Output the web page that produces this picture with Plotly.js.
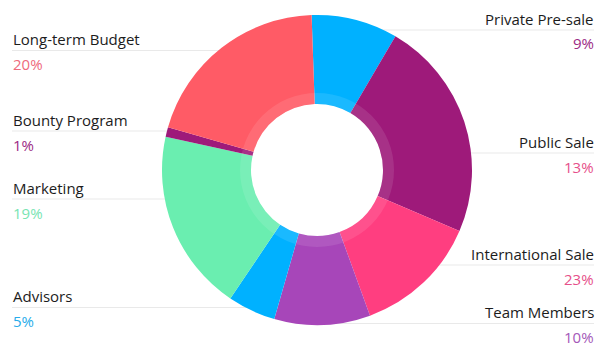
<!DOCTYPE html>
<html>
<head>
<meta charset="utf-8">
<script src="https://cdn.plot.ly/plotly-3.0.1.min.js"></script>
<style>html,body{margin:0;padding:0;background:#fff;}#chart{width:606px;height:356px;}</style>
</head>
<body>
<div id="chart"></div>
<script>
// Slices, clockwise from 12 o'clock
const sliceLabels = ['Private Pre-sale', 'International Sale', 'Public Sale', 'Team Members', 'Advisors', 'Marketing', 'Bounty Program', 'Long-term Budget'];
const sliceValues = [9, 23, 13, 10, 5, 19, 1, 20];
const sliceColors = ['#00b1ff', '#9e1a7a', '#ff3e80', '#a746b9', '#00b1ff', '#6aeeb0', '#9e1a7a', '#ff5b66'];

// Callout labels
const leftNames = ['Long-term Budget', 'Bounty Program', 'Marketing', 'Advisors'];
const leftPcts = ['20%', '1%', '19%', '5%'];
const leftPctColors = ['#ee6a7c', '#9c2a85', '#78e4b2', '#27acea'];
const rightNames = ['Private Pre-sale', 'Public Sale', 'International Sale', 'Team Members'];
const rightPcts = ['9%', '13%', '23%', '10%'];
const rightPctColors = ['#9c2a85', '#e6508a', '#e6508a', '#a458b8'];

// layout geometry (pixels)
const W = 606, H = 356;
const cx = 317, cy = 170, R = 155, rHole = 66, rRing = 77;
const leftLineY = [50.5, 131, 199, 307.5];
const rightLineY = [30, 153, 265, 323.5];
const px = x => x / W, py = y => 1 - y / H;
const edge = y => Math.sqrt(Math.max(0, R * R - (y - cy) * (y - cy))) - 3;

const traces = [
  {
    type: 'pie', labels: sliceLabels, values: sliceValues, sort: false,
    direction: 'clockwise', rotation: -2, hole: rHole / R,
    marker: {colors: sliceColors, line: {width: 0}},
    textinfo: 'none', hoverinfo: 'label+percent', showlegend: false,
    domain: {x: [px(cx - R), px(cx + R)], y: [py(cy + R), py(cy - R)]}
  },
  {
    type: 'pie', labels: ['ring'], values: [1], sort: false, hole: rHole / rRing,
    marker: {colors: ['rgba(255,255,255,0.1)'], line: {width: 0}},
    textinfo: 'none', hoverinfo: 'skip', showlegend: false,
    domain: {x: [px(cx - rRing), px(cx + rRing)], y: [py(cy + rRing), py(cy - rRing)]}
  }
];

const shapes = [];
const annotations = [];
const font = 'Open Sans, sans-serif';
const FS = 15;
leftNames.forEach((n, i) => {
  const ly = leftLineY[i];
  shapes.push({type: 'line', xref: 'paper', yref: 'paper', layer: 'below',
    x0: px(12), x1: px(cx - edge(ly)), y0: py(ly), y1: py(ly), line: {color: '#e9e9e9', width: 1}});
  annotations.push({xref: 'paper', yref: 'paper', x: px(11), y: py(ly - 11.5), xanchor: 'left', yanchor: 'middle',
    text: n, showarrow: false, font: {family: font, size: FS, color: '#1c1c1c'}});
  annotations.push({xref: 'paper', yref: 'paper', x: px(11), y: py(ly + 13.5), xanchor: 'left', yanchor: 'middle',
    text: leftPcts[i], showarrow: false, font: {family: font, size: FS, color: leftPctColors[i]}});
});
rightNames.forEach((n, i) => {
  const ly = rightLineY[i];
  shapes.push({type: 'line', xref: 'paper', yref: 'paper', layer: 'below',
    x0: px(cx + edge(ly)), x1: px(594), y0: py(ly), y1: py(ly), line: {color: '#e9e9e9', width: 1}});
  annotations.push({xref: 'paper', yref: 'paper', x: px(596), y: py(ly - 11.5), xanchor: 'right', yanchor: 'middle',
    text: n, showarrow: false, font: {family: font, size: FS, color: '#1c1c1c'}});
  annotations.push({xref: 'paper', yref: 'paper', x: px(596), y: py(ly + 13.5), xanchor: 'right', yanchor: 'middle',
    text: rightPcts[i], showarrow: false, font: {family: font, size: FS, color: rightPctColors[i]}});
});

const layout = {
  width: W, height: H, margin: {l: 0, r: 0, t: 0, b: 0},
  paper_bgcolor: '#ffffff', plot_bgcolor: '#ffffff',
  shapes: shapes, annotations: annotations, showlegend: false
};
Plotly.newPlot('chart', traces, layout, {displayModeBar: false, staticPlot: true});
</script>
</body>
</html>
